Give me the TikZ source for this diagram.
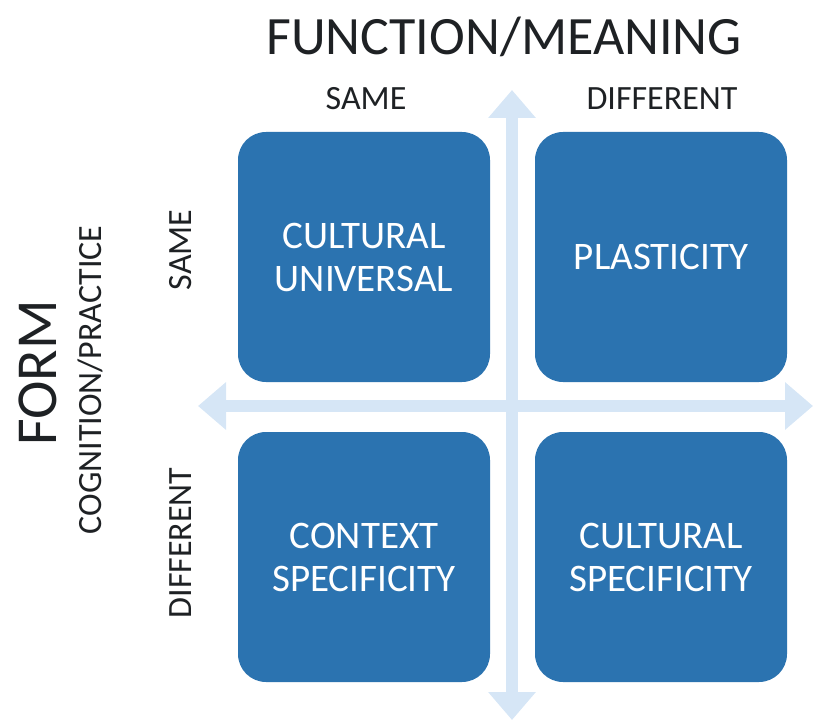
\documentclass[tikz,border=0pt]{standalone}
\usepackage{fontspec}
\setmainfont{Carlito}
\usetikzlibrary{arrows.meta}
\definecolor{quadInk}{HTML}{1E2124}
\definecolor{quadBlue}{HTML}{2B73B0}
\definecolor{quadPale}{HTML}{D6E6F6}

\begin{document}
\begin{tikzpicture}[
    x=1pt, y=-1pt,
    quad cell/.style={fill=quadBlue, rounded corners=28pt, minimum width=252pt,
      minimum height=250pt, text=white, align=center, inner sep=0pt,
      font=\fontsize{39}{43}\selectfont},
    quad axis/.style={draw=quadPale, line width=12pt,
      {Triangle[width=46pt,length=28pt]}-{Triangle[width=46pt,length=28pt]}},
    quad title/.style={text=quadInk, font=\fontsize{54}{60}\selectfont, inner sep=0pt},
    quad name/.style={text=quadInk, font=\fontsize{34}{38}\selectfont, inner sep=0pt},
]

  \useasboundingbox (0,0) rectangle (814,722);

  % Pontas dos eixos.
  \coordinate (ax-top) at (512,90);
  \coordinate (ax-bottom) at (512,720);
  \coordinate (ax-left) at (198,406);
  \coordinate (ax-right) at (813,406);

  % Eixos.
  \draw[quad axis] (ax-bottom) -- (ax-top);
  \draw[quad axis] (ax-left) -- (ax-right);

  % Quadrantes.
  \node[quad cell] (q-universal) at (364,257) {CULTURAL\\UNIVERSAL};
  \node[quad cell] (q-plasticity) at (661,257) {PLASTICITY};
  \node[quad cell] (q-context) at (364,557) {CONTEXT\\SPECIFICITY};
  \node[quad cell] (q-cultural) at (661,557) {CULTURAL\\SPECIFICITY};

  % Rótulos.
  \node[quad title, anchor=base] (l-function) at (504,55) {FUNCTION/MEANING};
  \node[quad name, anchor=base] (l-fsame) at (366,110) {SAME};
  \node[quad name, anchor=base] (l-fdiff) at (662,110) {DIFFERENT};
  \node[quad title, anchor=base, rotate=90, font=\fontsize{58}{64}\selectfont] (l-form) at (56,373) {FORM};
  \node[quad name, anchor=base, rotate=90] (l-cognition) at (101,380) {COGNITION/PRACTICE};
  \node[quad name, anchor=base, rotate=90] (l-csame) at (191,250) {SAME};
  \node[quad name, anchor=base, rotate=90] (l-cdiff) at (191,543) {DIFFERENT};
\end{tikzpicture}
\end{document}
